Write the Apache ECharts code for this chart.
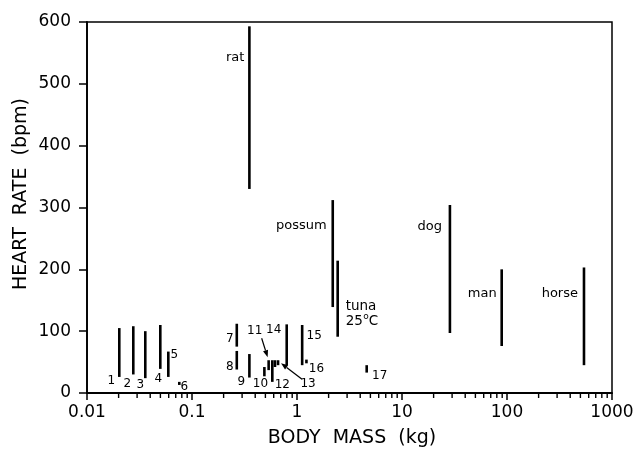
<!DOCTYPE html>
<html>
<head>
<meta charset="utf-8">
<script src="https://cdn.jsdelivr.net/npm/echarts@6/dist/echarts.min.js"></script>
<style>
  html, body { margin: 0; padding: 0; background: #fff; }
  #chart { width: 639px; height: 454px; }
</style>
</head>
<body>
<div id="chart"></div>
<script>
// Heart-rate ranges against body mass for each animal (log mass axis).
const specimens     = ['1', '2', '3', '4', '5', '6', '7', '8', '9', '10', '11', '12', '', '13', '14', '15', '16', '17',
                       'rat', 'possum', 'tuna', 'dog', 'man', 'horse'];
const bodyMassKg    = [0.0203, 0.0276, 0.0359, 0.0499, 0.0595, 0.0757, 0.267, 0.267, 0.352, 0.489, 0.537, 0.582, 0.617, 0.660,
                       0.798, 1.12, 1.23, 4.61, 0.352, 2.19, 2.44, 28.6, 89, 541];
const heartRateLow  = [26, 30, 24, 39, 26, 13, 75, 38, 25, 27, 37, 18, 42, 45, 45, 45, 48, 33, 330, 139, 91, 97, 76, 45];
const heartRateHigh = [105, 108, 100, 110, 67, 18, 112, 68, 63, 42, 53, 53, 53, 53, 111, 110, 54, 45, 593, 312, 214, 304, 200, 203];

const massTicks      = [0.01, 0.1, 1, 10, 100, 1000];
const massMinorTicks = [0.02, 0.03, 0.04, 0.05, 0.06, 0.07, 0.08, 0.09,
                        0.2, 0.3, 0.4, 0.5, 0.6, 0.7, 0.8, 0.9,
                        2, 3, 4, 5, 6, 7, 8, 9,
                        20, 30, 40, 50, 60, 70, 80, 90,
                        200, 300, 400, 500, 600, 700, 800, 900];
const heartRateTicks = [0, 100, 200, 300, 400, 500, 600];

const FONT = '"DejaVu Sans", "Liberation Sans", sans-serif';

// Where each name sits relative to the end of its bar (pixel offsets).
const labelPlacement = {
  '1':  { at: 'low',  dx: -8,  dy: 4 },
  '2':  { at: 'low',  dx: -6,  dy: 9 },
  '3':  { at: 'low',  dx: -5,  dy: 7 },
  '4':  { at: 'low',  dx: -2,  dy: 10 },
  '5':  { at: 'high', dx: 6,   dy: 3 },
  '6':  { at: 'low',  dx: 5,   dy: 2 },
  '7':  { at: 'low',  dx: -7,  dy: -8 },
  '8':  { at: 'low',  dx: -7,  dy: -3 },
  '9':  { at: 'low',  dx: -8,  dy: 4 },
  '10': { at: 'low',  dx: -4,  dy: 8 },
  '11': { at: 'high', dx: -14, dy: -29, arrow: [-7, -22, -1, -3] },
  '12': { at: 'low',  dx: 10,  dy: 3 },
  '13': { at: 'low',  dx: 30,  dy: 19, arrow: [24, 14, 3, -2] },
  '14': { at: 'high', dx: -13, dy: 6 },
  '15': { at: 'high', dx: 12,  dy: 11 },
  '16': { at: 'low',  dx: 10,  dy: 6 },
  '17': { at: 'low',  dx: 13,  dy: 3 },
  'rat':    { at: 'high', dx: -5, dy: 31, align: 'right', big: true },
  'possum': { at: 'high', dx: -6, dy: 26, align: 'right', big: true },
  'tuna':   { at: 'low',  dx: 8,  dy: -30, align: 'left', big: true, tuna: true },
  'dog':    { at: 'high', dx: -8, dy: 22, align: 'right', big: true },
  'man':    { at: 'high', dx: -5, dy: 24, align: 'right', big: true },
  'horse':  { at: 'high', dx: -6, dy: 26, align: 'right', big: true }
};

const rangeData = specimens.map((name, i) => [bodyMassKg[i], heartRateLow[i], heartRateHigh[i]]);

function textEl(x, y, text, size, align) {
  return {
    type: 'text', x: x, y: y,
    style: { text: text, fill: '#000', font: size + 'px ' + FONT, align: align || 'center', verticalAlign: 'middle' }
  };
}

function renderRange(params, api) {
  const i = params.dataIndex;
  const pLo = api.coord([api.value(0), api.value(1)]);
  const pHi = api.coord([api.value(0), api.value(2)]);
  const children = [{
    type: 'line',
    shape: { x1: pLo[0], y1: pLo[1], x2: pHi[0], y2: pHi[1] },
    style: { stroke: '#000', lineWidth: 2.6 }
  }];
  const name = specimens[i];
  const lay = labelPlacement[name];
  if (lay) {
    const a = lay.at === 'high' ? pHi : pLo;
    const x = a[0] + lay.dx, y = a[1] + lay.dy;
    if (lay.tuna) {
      children.push(textEl(x, y, 'tuna', 13.5, 'left'));
      children.push(textEl(x, y + 15, '25', 13.5, 'left'));
      children.push(textEl(x + 17.5, y + 10, 'o', 9, 'left'));
      children.push(textEl(x + 23, y + 15, 'C', 13.5, 'left'));
    } else {
      children.push(textEl(x, y, name, lay.big ? 13 : 12, lay.align));
    }
    if (lay.arrow) {
      const [sx, sy, ex, ey] = lay.arrow;
      const x1 = a[0] + sx, y1 = a[1] + sy, x2 = a[0] + ex, y2 = a[1] + ey;
      const ang = Math.atan2(y2 - y1, x2 - x1);
      const L = 7, W = 2.6;
      const bx = x2 - L * Math.cos(ang), by = y2 - L * Math.sin(ang);
      children.push({
        type: 'line', shape: { x1: x1, y1: y1, x2: bx, y2: by },
        style: { stroke: '#000', lineWidth: 1.2 }
      });
      children.push({
        type: 'polygon',
        shape: { points: [[x2, y2],
          [bx + W * Math.sin(ang), by - W * Math.cos(ang)],
          [bx - W * Math.sin(ang), by + W * Math.cos(ang)]] },
        style: { fill: '#000' }
      });
    }
  }
  return { type: 'group', children: children };
}

// Minor ticks hanging below the mass axis at 2..9 of each decade.
function renderMinorTick(params, api) {
  const top = api.coord([api.value(0), 0]);
  return {
    type: 'rect',
    shape: { x: top[0] - 0.7, y: top[1], width: 1.4, height: 5 },
    style: { fill: '#000' }
  };
}

const chart = echarts.init(document.getElementById('chart'), null, { renderer: 'canvas' });
chart.setOption({
  animation: false,
  backgroundColor: '#fff',
  grid: { left: 87, right: 27, top: 22, bottom: 61, show: true, borderColor: '#000', borderWidth: 1.5 },
  xAxis: {
    type: 'log', logBase: 10, min: massTicks[0], max: massTicks[massTicks.length - 1],
    position: 'bottom',
    axisLine: { show: true, lineStyle: { color: '#000', width: 1.8 } },
    axisTick: { show: true, inside: false, length: 7, customValues: massTicks, lineStyle: { color: '#000', width: 1.5 } },
    axisLabel: { show: true, margin: 11, customValues: massTicks, formatter: v => String(+(+v).toPrecision(3)),
                 color: '#000', fontFamily: FONT, fontSize: 17 },
    splitLine: { show: false }
  },
  yAxis: {
    type: 'value', min: 0, max: 600, interval: 100,
    axisLine: { show: true, lineStyle: { color: '#000', width: 1.8 } },
    axisTick: { show: true, inside: false, length: 8, lineStyle: { color: '#000', width: 1.5 } },
    axisLabel: { margin: 16, color: '#000', fontFamily: FONT, fontSize: 17,
                 customValues: heartRateTicks },
    splitLine: { show: false }
  },
  graphic: [
    { type: 'text', x: 352, y: 438,
      style: { text: 'BODY  MASS  (kg)', fill: '#000', font: '19px ' + FONT, align: 'center', verticalAlign: 'middle' } },
    { type: 'text', x: 21, y: 194, rotation: Math.PI / 2,
      style: { text: 'HEART  RATE  (bpm)', fill: '#000', font: '19px ' + FONT, align: 'center', verticalAlign: 'middle' } }
  ],
  series: [{
    type: 'custom',
    renderItem: renderRange,
    encode: { x: 0, y: [1, 2] },
    clip: false,
    data: rangeData
  }, {
    type: 'custom',
    renderItem: renderMinorTick,
    encode: { x: 0 },
    clip: false,
    z: 10,
    data: massMinorTicks.map(m => [m])
  }]
});
</script>
</body>
</html>
